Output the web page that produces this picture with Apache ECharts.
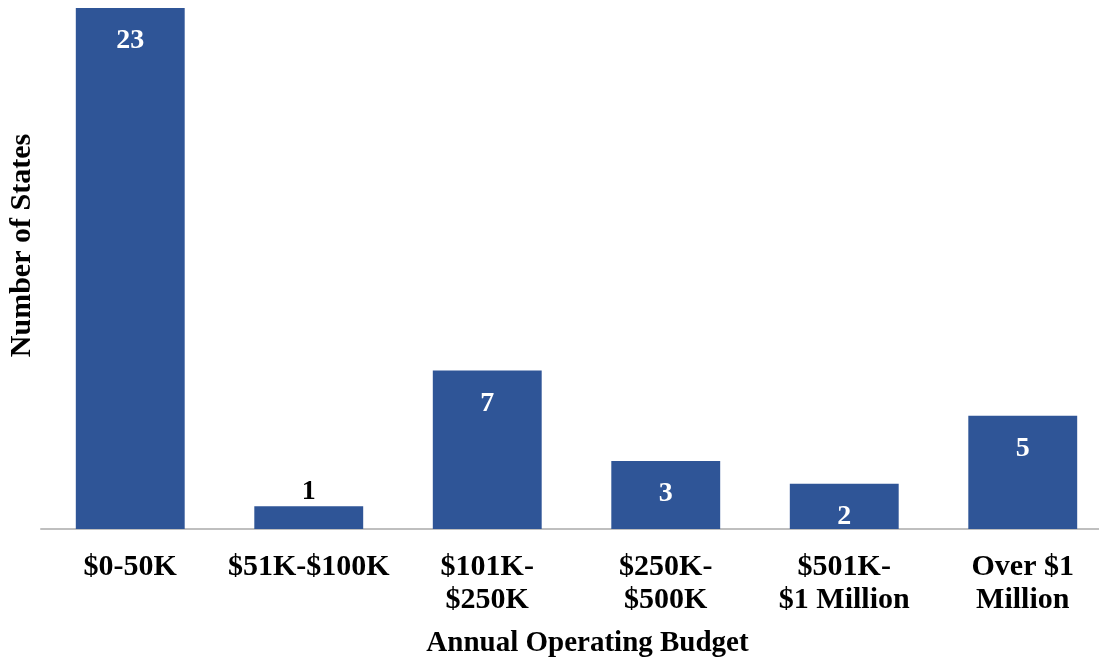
<!DOCTYPE html>
<html>
<head>
<meta charset="utf-8">
<script src="https://cdn.jsdelivr.net/npm/echarts@6/dist/echarts.min.js"></script>
<style>
  html, body { margin: 0; padding: 0; background: #fff; }
  #main { width: 1099px; height: 657px; }
</style>
</head>
<body>
<div id="main"></div>
<script>
var categories = ['$0-50K', '$51K-$100K', '$101K-\n$250K', '$250K-\n$500K', '$501K-\n$1 Million', 'Over $1\nMillion']
var states = [23, 1, 7, 3, 2, 5]

var font = "'Liberation Serif', 'Times New Roman', serif"

var chart = echarts.init(document.getElementById('main'))

var option = {
  backgroundColor: '#ffffff',
  animation: false,
  grid: {
    left: 41,
    right: -13,
    top: 8,
    bottom: 128,
    containLabel: false,
    outerBoundsMode: 'none'
  },
  xAxis: {
    type: 'category',
    data: categories,
    name: 'Annual Operating Budget',
    nameLocation: 'middle',
    nameGap: 100,
    nameTextStyle: {
      fontFamily: font,
      fontWeight: 'bold',
      fontSize: 29,
      color: '#000',
      padding: [0, 0, 0, 22]
    },
    axisLine: { show: true, lineStyle: { color: '#bfbfbf', width: 2 } },
    axisTick: { show: false },
    axisLabel: {
      interval: 0,
      margin: 22,
      fontFamily: font,
      fontWeight: 'bold',
      fontSize: 30,
      lineHeight: 33,
      color: '#000'
    }
  },
  yAxis: {
    type: 'value',
    min: 0,
    max: 23,
    name: 'Number of States',
    nameLocation: 'middle',
    nameGap: 4,
    nameRotate: 90,
    nameTextStyle: {
      fontFamily: font,
      fontWeight: 'bold',
      fontSize: 30,
      color: '#000',
      padding: [0, 0, 0, 46]
    },
    axisLine: { show: false },
    axisTick: { show: false },
    axisLabel: { show: false },
    splitLine: { show: false }
  },
  series: [{
    type: 'bar',
    barWidth: '61%',
    itemStyle: { color: '#2f5597' },
    label: {
      show: true,
      position: 'insideTop',
      distance: 19,
      fontFamily: font,
      fontWeight: 'bold',
      fontSize: 28,
      color: '#ffffff'
    },
    data: states.map(function (v) {
      if (v < 2) {
        return { value: v, label: { position: 'top', distance: 1, color: '#000' } }
      }
      return v
    })
  }]
}

chart.setOption(option)
</script>
</body>
</html>
